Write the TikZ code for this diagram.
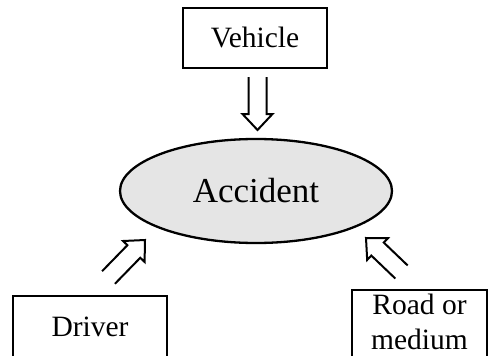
\documentclass[tikz,border=0pt]{standalone}
\usepackage{fontspec}
\setmainfont{Liberation Serif}
\usetikzlibrary{calc,shapes.geometric}

\tikzset{
  factor/.style={draw, line width=2pt, rectangle, inner xsep=4pt, inner ysep=20pt,
    text height=20pt, font=\fontsize{29.5}{35}\selectfont},
  event/.style={draw, line width=2.3pt, ellipse, fill=gray!20, inner sep=0pt,
    minimum width=272pt, minimum height=104pt, font=\fontsize{35}{40}\selectfont},
  % open double-shafted arrow running from the tail point to the tip point
  hollow arrow/.style={line width=2pt, line join=miter, to path={
    let \p1=(\tikztostart), \p2=(\tikztotarget), \p3=($(\p2)!16pt!(\p1)$) in
    ($(\p1)!9pt!90:(\p2)$) -- ($(\p3)!9pt!-90:(\p1)$) -- ($(\p3)!15pt!-90:(\p1)$)
    -- (\p2) -- ($(\p3)!15pt!90:(\p1)$) -- ($(\p3)!9pt!90:(\p1)$)
    -- ($(\p1)!9pt!-90:(\p2)$)}}
}

\begin{document}
\begin{tikzpicture}[x=1pt, y=-1pt]
  \clip (0,0) rectangle (488,356);

  \node[event] (acc) at (256,191) {Accident};
  \node[factor, minimum width=144pt] (veh) at (255,38) {Vehicle};
  \node[factor, minimum width=154pt, anchor=north] (drv) at (90,295)
    {Driver\rule[-40pt]{0pt}{0pt}};
  \node[draw, line width=2pt, rectangle, inner xsep=4pt, inner ysep=0pt,
    minimum width=135pt, anchor=north, align=center,
    font=\fontsize{29.5}{35}\selectfont] (road) at (419.5,289)
    {\rule{0pt}{24pt}Road or\\medium\rule[-30pt]{0pt}{0pt}};

  % arrow ends
  \coordinate (vehTail) at (257.5,77);
  \coordinate (vehTip)  at (257.5,130);
  \coordinate (drvTail) at (108.5,277.5);
  \coordinate (drvTip)  at (145,240);
  \coordinate (roadTail) at (401.5,272);
  \coordinate (roadTip)  at (366,238);

  \draw[hollow arrow] (vehTail) to (vehTip);
  \draw[hollow arrow] (drvTail) to (drvTip);
  \draw[hollow arrow] (roadTail) to (roadTip);
\end{tikzpicture}
\end{document}
